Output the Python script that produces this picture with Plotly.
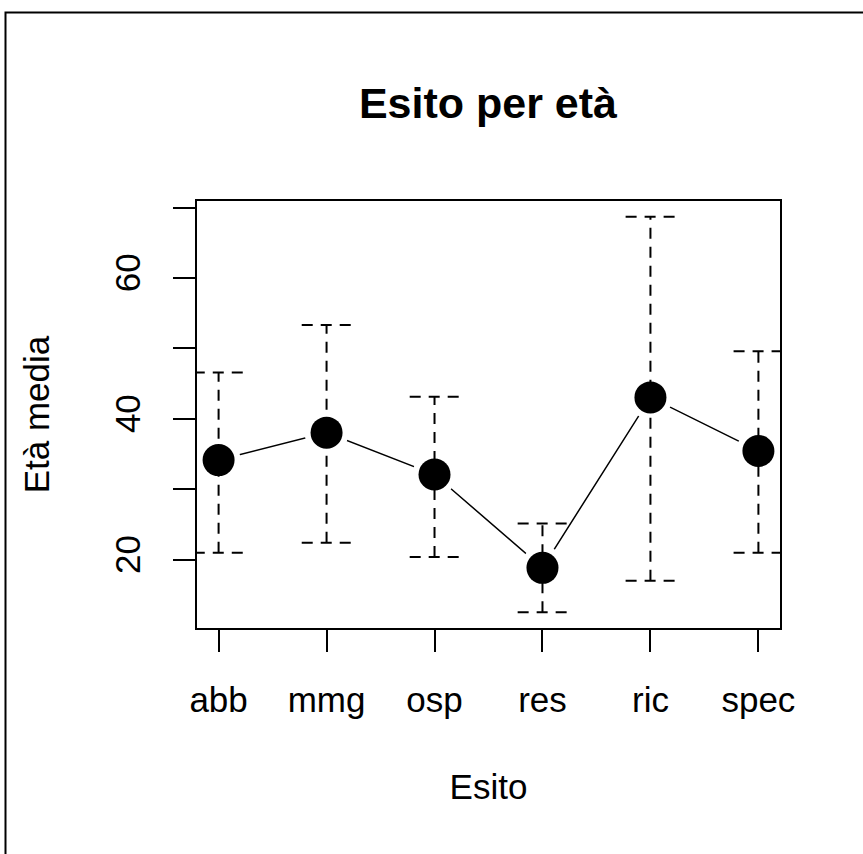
import plotly.graph_objects as go

# ---- data ----
categories = ["abb", "mmg", "osp", "res", "ric", "spec"]
mean_age = [34.15, 38.05, 32.1, 18.85, 43.05, 35.45]
upper_ci = [46.6, 53.35, 43.15, 25.15, 68.7, 49.6]
lower_ci = [21.0, 22.4, 20.4, 12.55, 17.0, 21.0]
y_tickvals = [20, 30, 40, 50, 60, 70]
y_ticktext = ["20", "", "40", "", "60", ""]

# ---- styles ----
FONT = "Liberation Sans, Arial, sans-serif"
CAP_HALF = 0.23          # half width of the CI caps, in x units
DASH = "11px,8px"

x = list(range(1, len(categories) + 1))

# R-style 4% axis extension
def extend(lo, hi, f=0.04):
    d = (hi - lo) * f
    return [lo - d, hi + d]

xr = extend(min(x), max(x))
yr = extend(min(lower_ci), max(upper_ci))

fig = go.Figure()

# connecting line (type="b")
fig.add_trace(go.Scatter(x=x, y=mean_age, mode="lines",
                         line=dict(color="black", width=1.5),
                         hoverinfo="skip", showlegend=False))
# white halos to create the gaps around the points
fig.add_trace(go.Scatter(x=x, y=mean_age, mode="markers",
                         marker=dict(color="white", size=44, line=dict(width=0)),
                         hoverinfo="skip", showlegend=False))

# dashed confidence intervals with caps
ex, ey = [], []
for xi, lo, hi in zip(x, lower_ci, upper_ci):
    ex += [xi, xi, None]
    ey += [lo, hi, None]
    ex += [xi - CAP_HALF, xi + CAP_HALF, None]
    ey += [hi, hi, None]
    ex += [xi - CAP_HALF, xi + CAP_HALF, None]
    ey += [lo, lo, None]
fig.add_trace(go.Scatter(x=ex, y=ey, mode="lines",
                         line=dict(color="black", width=2, dash=DASH),
                         hoverinfo="skip", showlegend=False))

# points
fig.add_trace(go.Scatter(x=x, y=mean_age, mode="markers",
                         marker=dict(color="black", size=32, line=dict(width=0)),
                         showlegend=False))

axis_common = dict(showline=True, mirror=True, linecolor="black", linewidth=2,
                   ticks="outside", ticklen=22, tickwidth=2, tickcolor="black",
                   showgrid=False, zeroline=False,
                   tickfont=dict(family=FONT, size=35, color="black"))

fig.update_layout(
    width=863, height=854,
    margin=dict(l=197, r=83, t=201, b=226),
    paper_bgcolor="white", plot_bgcolor="white",
    title=dict(text="<b>Esito per età</b>", x=0.5654, xanchor="center",
               y=1 - 118.0 / 854, yanchor="bottom", yref="container",
               font=dict(family=FONT, size=43, color="black")),
    xaxis=dict(range=xr, tickvals=x, ticktext=categories,
               ticklabelstandoff=18,
               title=dict(text="Esito", standoff=56,
                          font=dict(family=FONT, size=35, color="black")),
               **axis_common),
    yaxis=dict(range=yr, tickvals=y_tickvals, ticktext=y_ticktext,
               tickangle=-90, ticklabelstandoff=19,
               title=dict(text="Età media", standoff=48,
                          font=dict(family=FONT, size=35, color="black")),
               **axis_common),
    shapes=[dict(type="rect", xref="paper", yref="paper",
                 x0=(5.5 - 197) / 583, x1=2.0,
                 y0=-2.0, y1=(628 - 12.5) / 427,
                 line=dict(color="black", width=2), fillcolor="rgba(0,0,0,0)",
                 layer="below")],
)

fig.write_html("out.html")
